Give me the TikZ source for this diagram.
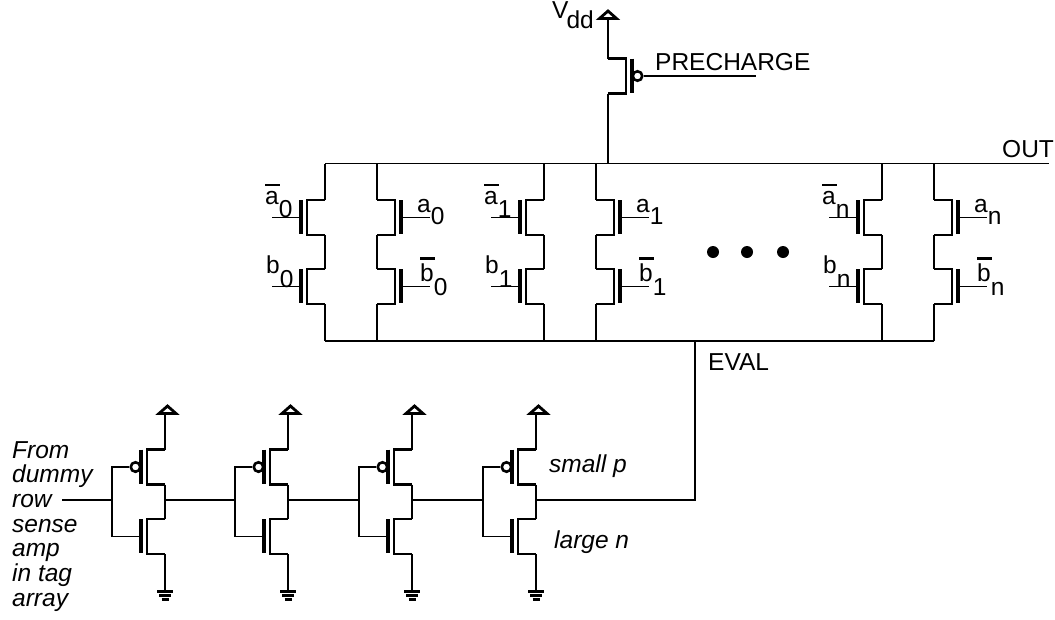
\documentclass[tikz,border=0pt]{standalone}
\usepackage{fontspec}
\setmainfont{Liberation Sans}
\newcommand{\lsub}[3]{#2\raisebox{-#1}{#3}}
\newcommand{\lbar}[2]{\rlap{\raisebox{#1}{\rule{14.5pt}{2.5pt}}}#2}
\tikzset{
    wire/.style={line width=1.5pt},
    chan/.style={line width=2.8pt},
    plate/.style={line width=3.2pt},
    lab/.style={font=\fontsize{24.5}{24.7}\selectfont,inner sep=0pt,anchor=base west},
    note/.style={lab,font=\fontsize{24.5}{24.7}\selectfont\itshape},
    bubble/.style={circle,draw,line width=2.6pt,fill=white,inner sep=0pt,minimum size=9.5pt},
    dot/.style={circle,fill=black,inner sep=0pt,minimum size=12pt},
    pics/nfet/.style={code={
        \draw[chan] (0,0) -- (#1*18,0) -- (#1*18,35) -- (0,35);
        \draw[plate] (#1*24,0) -- (#1*24,34);
        \coordinate (-d) at (0,0);
        \coordinate (-s) at (0,35);
        \coordinate (-g) at (#1*24,17.5);
        \coordinate (-e) at (#1*53,17.5);
    }},
    pics/pfet/.style={code={
        \draw[chan] (0,0) -- (#1*18,0) -- (#1*18,35) -- (0,35);
        \draw[plate] (#1*24,0) -- (#1*24,34);
        \node[bubble] (-b) at (#1*29.5,17.5) {};
        \coordinate (-d) at (0,0);
        \coordinate (-s) at (0,35);
    }},
    pics/vddtip/.style={code={
        \draw[chan,line join=miter] (-8.5,-1.5) -- (8.5,-1.5) -- (0,-9) -- cycle;
    }},
    pics/gndtip/.style={code={
        \draw[chan] (-8,1.5) -- (8,1.5);
        \draw[chan] (-5.7,5.5) -- (5.7,5.5);
        \draw[chan] (-3.5,9.5) -- (3.5,9.5);
    }},
}
\begin{document}
\begin{tikzpicture}[x=1pt,y=-1pt]
\useasboundingbox (0,0) rectangle (1055,619);

\coordinate (topl) at (325,163.5);
\coordinate (topr) at (1049,163.5);
\coordinate (botl) at (325,341);
\coordinate (botr) at (934,341);
\draw[wire] (topl) -- (topr);
\draw[wire] (botl) -- (botr);

% precharge device
\coordinate (vdd) at (608,20);
\coordinate (tap) at (608,163.5);
\coordinate (pcg) at (756,76);
\pic at (vdd) {vddtip};
\pic (pre) at (608,58.5) {pfet=1};
\draw[wire] (vdd) -- (pre-d) (pre-s) -- (tap);
\draw[wire] (pre-b) -- (pcg);
\node[lab] (vddlab) at (552,18.5) {\lsub{10pt}{V\kern-2pt}{dd}};
\node[lab] (pcglab) at (655,70) {PRECHARGE};
\node[lab] (outlab) at (1002,157) {OUT};

% pull down columns
\foreach \l/\r/\s in {325/377/0,544/596/1,882/934/n} {
    \pic (al\s) at (\l,200) {nfet=-1};
    \pic (bl\s) at (\l,269) {nfet=-1};
    \pic (ar\s) at (\r,200) {nfet=1};
    \pic (br\s) at (\r,269) {nfet=1};
    \coordinate (tl\s) at (\l,163.5);
    \coordinate (tr\s) at (\r,163.5);
    \coordinate (dl\s) at (\l,341);
    \coordinate (dr\s) at (\r,341);
    \draw[wire] (tl\s) -- (al\s-d) (al\s-s) -- (bl\s-d) (bl\s-s) -- (dl\s);
    \draw[wire] (tr\s) -- (ar\s-d) (ar\s-s) -- (br\s-d) (br\s-s) -- (dr\s);
    \draw[wire] (al\s-g) -- (al\s-e) (bl\s-g) -- (bl\s-e);
    \draw[wire] (ar\s-g) -- (ar\s-e) (br\s-g) -- (br\s-e);
    \node[lab] (alab\s) at (\l-60,204) {\lsub{13pt}{\lbar{18pt}{a}}{\s}};
    \node[lab] (blab\s) at (\l-59,273) {\lsub{14pt}{b}{\s}};
    \node[lab] (clab\s) at (\r+40,212) {\lsub{12pt}{a}{\s}};
    \node[lab] (dlab\s) at (\r+43,281) {\lsub{14pt}{\lbar{21.5pt}{b}}{\s}};
}
\foreach \x/\n in {713/1,747/2,783/3}
    \node[dot] (dot\n) at (\x,252) {};
\node[lab] (evlab) at (708,370) {EVAL};

% inverter chain
\foreach \n/\v in {1/112,2/235,3/359,4/483} {
    \pgfmathsetmacro{\r}{\v+53}
    \coordinate (vt\n) at (\r,415);
    \coordinate (gt\n) at (\r,590);
    \coordinate (i\n) at (\v,500);
    \coordinate (o\n) at (\r,500);
    \pic at (\r+2.5,415) {vddtip};
    \pic at (gt\n) {gndtip};
    \pic (p\n) at (\r,449.5) {pfet=-1};
    \pic (q\n) at (\r,519) {nfet=-1};
    \draw[wire] (vt\n) -- (p\n-d) (p\n-s) -- (q\n-d) (q\n-s) -- (gt\n);
    \draw[wire] (p\n-b) -| (i\n) |- (q\n-g);
}
\coordinate (src) at (62,500);
\coordinate (ev) at (695,341);
\draw[wire] (src) -- (i1) (o1) -- (i2) (o2) -- (i3) (o3) -- (i4);
\draw[wire] (o4) -| (ev);
\node[note,align=left,anchor=north west] (srclab) at (12,441) {From\\dummy\\row\\sense\\amp\\in tag\\array};
\node[note] (plab) at (549,472) {small p};
\node[note] (nlab) at (554,548) {large n};
\end{tikzpicture}
\end{document}
